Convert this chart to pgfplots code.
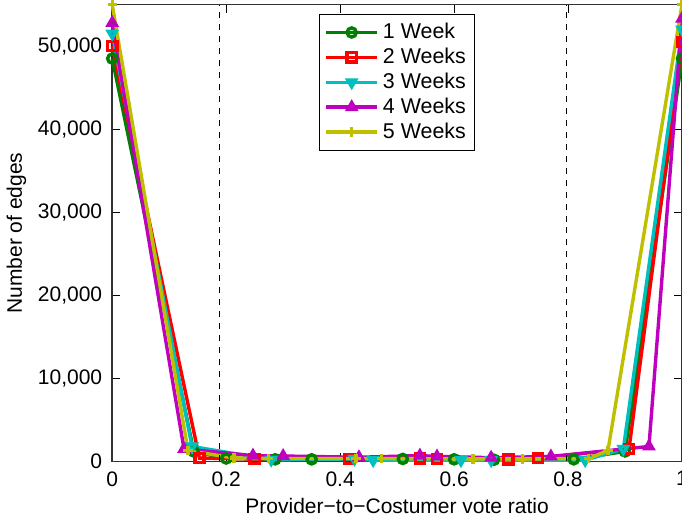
\documentclass[border=0pt]{standalone}
\usepackage{pgfplots}
\pgfplotsset{compat=1.18}
\usepackage{fontspec}
\setmainfont{Liberation Sans}
\definecolor{mgreen}{rgb}{0,0.5,0}
\definecolor{mred}{rgb}{1,0,0}
\definecolor{mcyan}{rgb}{0,0.75,0.75}
\definecolor{mmag}{rgb}{0.75,0,0.75}
\definecolor{myel}{rgb}{0.75,0.75,0}
\begin{document}
\begin{tikzpicture}[trim axis right]
\begin{axis}[
  scale only axis,
  width=285pt, height=228.5pt,
  xmin=0, xmax=1, ymin=0, ymax=55000,
  xtick={0,0.2,0.4,0.6,0.8,1},
  xticklabels={0,0.2,0.4,0.6,0.8,1},
  ytick={0,10000,20000,30000,40000,50000},
  scaled y ticks=false,
  /pgf/number format/1000 sep={,},
  /pgf/number format/assume math mode=true,
  tick align=inside,
  major tick length=4pt,
  tick style={black, line width=0.5pt},
  axis line style={black!80, line width=0.8pt},
  tick label style={font=\fontsize{10.5}{12.5}\selectfont},
  yticklabel style={xshift=-1.5pt},
  xticklabel style={yshift=-1.5pt},
  label style={font=\fontsize{10.5}{12.5}\selectfont},
  xlabel={Provider−to−Costumer vote ratio},
  ylabel={Number of edges},
  xlabel style={yshift=1pt},
  ylabel style={yshift=-1pt},
  legend style={at={(0.5,0.98)}, anchor=north, draw=black, line width=0.5pt,
    font=\fontsize{10.7}{12.5}\selectfont, row sep=-0.8pt, inner sep=2.5pt},
  legend cell align=left,
  legend image code/.code={\draw[#1] (0cm,0cm) -- (0.9cm,0cm); \draw[#1, mark repeat=2, mark phase=2] plot coordinates {(0cm,0cm) (0.45cm,0cm) (0.9cm,0cm)};},
  every axis plot/.append style={line width=1.7pt, mark size=2.3pt},
  clip=false,
]
\addplot[color=mgreen, mark=o] coordinates {
 (0,48500) (0.143,1200) (0.2,350) (0.286,250) (0.35,250) (0.51,300) (0.6,250) (0.67,200) (0.81,250) (0.9,1200) (1,48500)};
\addlegendentry{1 Week}
\addplot[color=mred, mark=square] coordinates {
 (0,50000) (0.153,400) (0.25,300) (0.416,300) (0.54,350) (0.57,300) (0.695,250) (0.747,400) (0.907,1500) (1,50500)};
\addlegendentry{2 Weeks}
\addplot[color=mcyan, mark=triangle, mark options={rotate=180}] coordinates {
 (0,51500) (0.14,1800) (0.279,200) (0.425,300) (0.458,150) (0.612,150) (0.665,150) (0.83,150) (0.897,1500) (1,52000)};
\addlegendentry{3 Weeks}
\addplot[color=mmag, mark=triangle] coordinates {
 (0,52800) (0.126,1500) (0.247,700) (0.3,650) (0.433,500) (0.54,700) (0.57,600) (0.665,450) (0.77,600) (0.942,1800) (1,53300)};
\addlegendentry{4 Weeks}
\addplot[color=myel, mark=+] coordinates {
 (0,55000) (0.133,1300) (0.214,400) (0.274,350) (0.428,350) (0.473,350) (0.633,300) (0.72,300) (0.836,350) (0.87,1300) (1,55000)};
\addlegendentry{5 Weeks}
\addplot[black, dashed, line width=0.5pt, mark=none, forget plot] coordinates {(0.188,0) (0.188,55000)};
\addplot[black, dashed, line width=0.5pt, mark=none, forget plot] coordinates {(0.797,0) (0.797,55000)};
\end{axis}
\end{tikzpicture}
\end{document}
